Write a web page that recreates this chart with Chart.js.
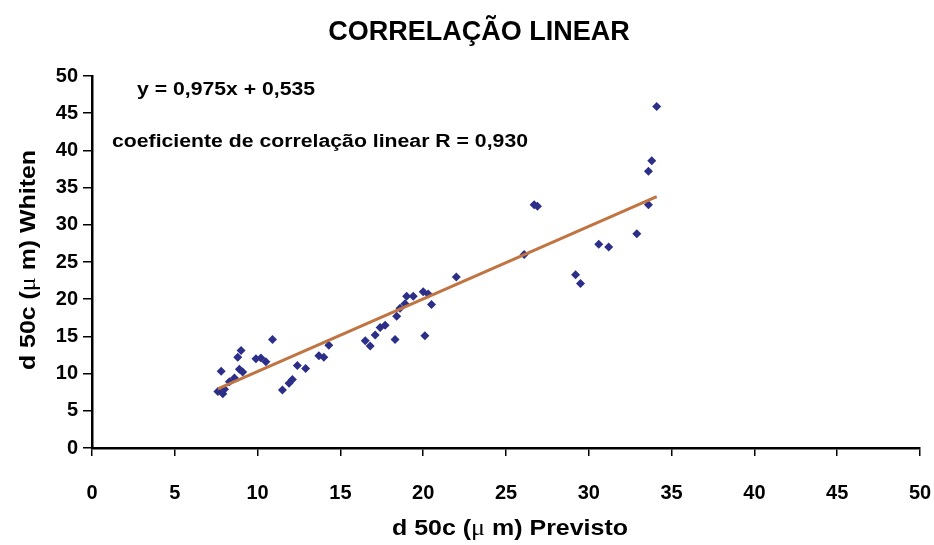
<!DOCTYPE html>
<html>
<head>
<meta charset="utf-8">
<title>Correlação linear</title>
<script src="https://cdn.jsdelivr.net/npm/chart.js@4.4.1/dist/chart.umd.min.js"></script>
<style>
  body { margin: 0; background: #fff; }
  #wrap { width: 934px; height: 545px; }
</style>
</head>
<body>
<div id="wrap"><canvas id="chart" width="934" height="545"></canvas></div>
<script>
// d50c previsto (x) vs d50c Whiten (y), em micrometros
var xPrevisto = [7.6, 7.9, 8.0, 7.8, 8.3, 8.6, 8.8, 9.0, 8.9, 9.1,
                 9.9, 10.2, 10.5, 10.9, 11.5, 11.9, 12.1, 12.4, 12.9, 13.7,
                 14.0, 14.3, 16.5, 16.8, 17.1, 17.4, 17.7, 18.3, 18.4, 18.6,
                 18.9, 19.0, 19.4, 20.0, 20.3, 20.1, 20.5, 22.0, 26.1, 26.7,
                 26.9, 29.2, 29.5, 30.6, 31.2, 32.9, 33.6, 33.6, 33.8, 34.1];
var yWhiten   = [7.6, 7.3, 7.9, 10.3, 8.9, 9.4, 12.2, 13.1, 10.6, 10.2,
                 12.0, 12.1, 11.6, 14.6, 7.8, 8.7, 9.2, 11.1, 10.7, 12.4,
                 12.2, 13.8, 14.4, 13.7, 15.2, 16.2, 16.5, 14.6, 17.7, 18.8,
                 19.4, 20.4, 20.4, 21.0, 20.7, 15.1, 19.3, 23.0, 26.0, 32.7,
                 32.5, 23.3, 22.1, 27.4, 27.0, 28.8, 32.7, 37.2, 38.6, 45.9];

var slope = 0.975;
var intercept = 0.535;
var rLinear = '0,930';
var axisTicks = [0, 5, 10, 15, 20, 25, 30, 35, 40, 45, 50];

var pts = xPrevisto.map(function(x, i) { return {x: x, y: yWhiten[i]}; });
var xMin = Math.min.apply(null, xPrevisto);
var xMax = Math.max.apply(null, xPrevisto);
var trend = [
  {x: xMin, y: slope * xMin + intercept},
  {x: xMax, y: slope * xMax + intercept}
];

function pt(n) { return n.toFixed(3).replace('.', ','); }

var FONT = "'Liberation Sans', Arial, sans-serif";
var BOLD = 'bold 22px ' + FONT;
var MU = '23px "Liberation Serif", "Times New Roman", serif';

// text squeezed/stretched sideways to a given width
function fitText(ctx, text, x, y, w) {
  var m = ctx.measureText(text).width;
  ctx.save();
  ctx.translate(x, y);
  ctx.scale(w / m, 1);
  ctx.fillText(text, 0, 0);
  ctx.restore();
}

// axis label with a serif mu in the middle, centred on cx and w wide
function unitLabel(ctx, tail, cx, y, w) {
  var parts = [['d 50c (', BOLD], ['\u03bc', MU], [' m) ' + tail, BOLD]];
  var total = 0;
  parts.forEach(function(p) { ctx.font = p[1]; total += ctx.measureText(p[0]).width; });
  ctx.save();
  ctx.translate(cx - w / 2, y);
  ctx.scale(w / total, 1);
  var x = 0;
  parts.forEach(function(p) {
    ctx.font = p[1];
    ctx.fillText(p[0], x, 0);
    x += ctx.measureText(p[0]).width;
  });
  ctx.restore();
}

var textPlugin = {
  id: 'texts',
  afterDraw: function(chart) {
    var ctx = chart.ctx;
    var area = chart.chartArea;
    ctx.save();
    ctx.fillStyle = '#000';
    ctx.textBaseline = 'alphabetic';
    ctx.textAlign = 'center';
    ctx.font = 'bold 27px ' + FONT;
    ctx.fillText('CORRELAÇÃO LINEAR', 479, 40);

    ctx.textAlign = 'left';
    ctx.font = 'bold 18px ' + FONT;
    fitText(ctx, 'y = ' + pt(slope) + 'x + ' + pt(intercept), 137, 95, 178);
    fitText(ctx, 'coeficiente de correlação linear R = ' + rLinear, 112, 147, 416);

    unitLabel(ctx, 'Previsto', 510, 535, 236);
    ctx.save();
    ctx.translate(35, 260);
    ctx.rotate(-Math.PI / 2);
    unitLabel(ctx, 'Whiten', 0, 0, 220);
    ctx.restore();
    ctx.restore();
  }
};

var tickFont = {family: FONT, size: 20, weight: 'bold'};

new Chart(document.getElementById('chart'), {
  type: 'scatter',
  data: {
    datasets: [{
      data: pts,
      pointStyle: 'rectRot',
      pointRadius: 4.5,
      pointBackgroundColor: '#2c2f88',
      pointBorderColor: '#2c2f88',
      pointBorderWidth: 0,
      order: 2
    }, {
      type: 'line',
      data: trend,
      borderColor: '#c07442',
      borderWidth: 3,
      pointRadius: 0,
      order: 1
    }]
  },
  options: {
    responsive: false,
    animation: false,
    layout: { padding: {top: 76, right: 14, left: 0, bottom: 0} },
    plugins: { legend: {display: false}, tooltip: {enabled: false} },
    scales: {
      x: {
        type: 'linear', min: 0, max: 50,
        afterBuildTicks: function(s) { s.ticks = axisTicks.map(function(v) { return {value: v}; }); },
        afterFit: function(s) { s.height = 97; s.paddingLeft = 0; s.paddingRight = 0; },
        border: {display: true, color: '#000', width: 2.5},
        grid: {drawOnChartArea: false, drawTicks: true, tickLength: 8, color: '#000', lineWidth: 1.5},
        ticks: {color: '#000', font: tickFont, padding: 25, maxRotation: 0}
      },
      y: {
        type: 'linear', min: 0, max: 50,
        afterBuildTicks: function(s) { s.ticks = axisTicks.map(function(v) { return {value: v}; }); },
        afterFit: function(s) { s.width = 92; s.paddingTop = 0; s.paddingBottom = 0; },
        border: {display: true, color: '#000', width: 2.5},
        grid: {drawOnChartArea: false, drawTicks: true, tickLength: 9, color: '#000', lineWidth: 1.5},
        ticks: {color: '#000', font: tickFont, padding: 5}
      }
    }
  },
  plugins: [textPlugin]
});
</script>
</body>
</html>
